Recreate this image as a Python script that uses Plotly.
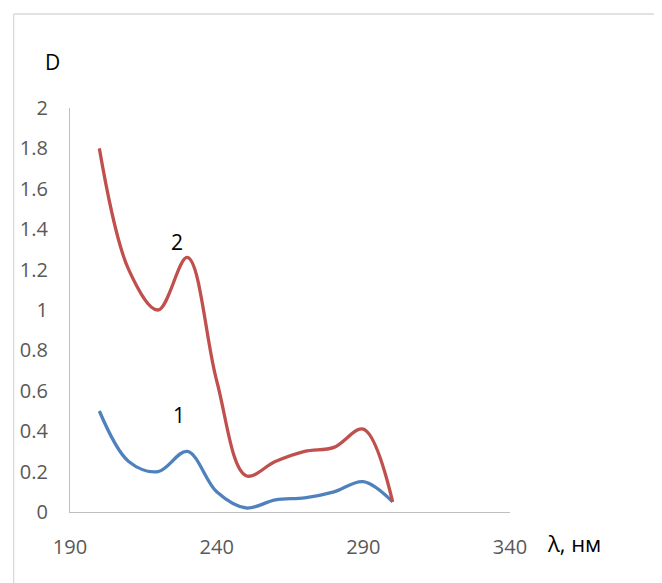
import plotly.graph_objects as go

wavelength = [200, 210, 220, 230, 240, 250, 260, 270, 280, 290, 300]
curve1 = [0.50, 0.25, 0.20, 0.30, 0.10, 0.02, 0.06, 0.07, 0.10, 0.15, 0.05]
curve2 = [1.80, 1.20, 1.00, 1.26, 0.65, 0.18, 0.25, 0.30, 0.32, 0.41, 0.05]
x_ticks = [190, 240, 290, 340]
y_ticks = [0, 0.2, 0.4, 0.6, 0.8, 1, 1.2, 1.4, 1.6, 1.8, 2]

OFF = 8  # default page body margin
W, H = 662 - OFF, 583 - OFF
L, R, T, B = 65 - OFF, 152, 108 - OFF, 71
pw, ph = W - L - R, H - T - B

def px(xs):
    return (xs - OFF - L) / pw

def py(ys):
    return (H - B - (ys - OFF)) / ph

fig = go.Figure()
fig.add_trace(go.Scatter(x=wavelength, y=curve1, mode="lines",
                         line=dict(color="#4F81BD", width=3.3, shape="spline", smoothing=1),
                         showlegend=False))
fig.add_trace(go.Scatter(x=wavelength, y=curve2, mode="lines",
                         line=dict(color="#C0504D", width=3.3, shape="spline", smoothing=1),
                         showlegend=False))

font = "Open Sans, Lato, DejaVu Sans, sans-serif"
fig.update_layout(
    width=W, height=H,
    margin=dict(l=L, r=R, t=T, b=B),
    paper_bgcolor="white", plot_bgcolor="white",
    font=dict(family=font, size=20, color="#595959"),
    xaxis=dict(range=[190, 340], tickvals=x_ticks, showgrid=False, zeroline=False,
               showline=True, linecolor="#BFBFBF", linewidth=1.3, ticks="",
               ticklabelstandoff=17),
    yaxis=dict(range=[0, 2], tickvals=y_ticks, showgrid=False, zeroline=False,
               showline=True, linecolor="#BFBFBF", linewidth=1.3, ticks="",
               ticklabelstandoff=17),
    shapes=[
        dict(type="line", xref="paper", yref="paper", x0=px(8), x1=px(662), y0=py(14), y1=py(14),
             line=dict(color="#D9D9D9", width=1.3)),
        dict(type="line", xref="paper", yref="paper", x0=px(8), x1=px(8), y0=py(14), y1=py(583),
             line=dict(color="#D9D9D9", width=1.3)),
    ],
    annotations=[
        dict(text="D", xref="paper", yref="paper", x=px(47), y=py(62), showarrow=False,
             xanchor="center", yanchor="middle",
             font=dict(size=21, color="black", family=font)),
        dict(text="λ, нм", xref="paper", yref="paper", x=px(575), y=py(543), showarrow=False,
             xanchor="center", yanchor="middle",
             font=dict(size=22, color="black", family=font)),
        dict(text="2", x=226.4, y=1.338, showarrow=False,
             xanchor="center", yanchor="middle",
             font=dict(size=21, color="black", family=font)),
        dict(text="1", x=227.3, y=0.48, showarrow=False,
             xanchor="center", yanchor="middle",
             font=dict(size=21, color="black", family=font)),
    ],
)

fig.write_html("out.html")
